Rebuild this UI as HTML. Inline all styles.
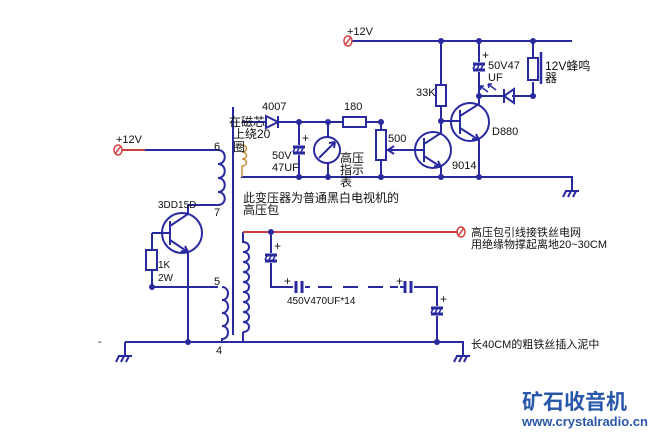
<!DOCTYPE html>
<html><head><meta charset="utf-8"><style>
body{margin:0;background:#fff}
svg{display:block}
text{font-family:"Liberation Sans","Noto Sans CJK SC",sans-serif;font-size:12px;fill:#111}
</style></head><body>
<svg width="653" height="434" viewBox="0 0 653 434" xmlns="http://www.w3.org/2000/svg">
<defs>
<g id="gnd"><path d="M-7,0H7M-6,0l-3,6M-1,0l-3,6M4,0l-3,6" stroke="#2a2aa0" stroke-width="2" fill="none"/></g>
<g id="cap"><path d="M-6,-3H6M-6,3H6" stroke="#2a2aa0" stroke-width="3"/><path d="M-4,-2l-2,4M0,-2l-2,4M4,-2l-2,4" stroke="#2a2aa0" stroke-width="1.5"/></g>
<g id="capv"><path d="M-3,-6V6M3,-6V6" stroke="#2a2aa0" stroke-width="3"/></g>
</defs>
<g stroke="#2a2aa0" stroke-width="2" fill="none">
<!-- top rail -->
<path d="M352,41H572"/>
<path d="M441,41V85M441,106V121H452"/>
<rect x="436" y="85" width="10" height="21"/>
<path d="M479,41V62M479,72V96H504M512,96H533V82M533,58V41"/>
<rect x="528" y="58" width="10" height="22"/>
<path d="M541,52V84" stroke-width="2.5"/>
<!-- LED diode -->
<path d="M504,96L514,89V103Z M504,89V103"/>
<path d="M496,90l-8,-6M488,84l1,4M488,84l4,0M488,92l-8,-6M480,86l1,4M480,86l4,0" stroke-width="1.5"/>
<!-- D880 -->
<circle cx="470" cy="122" r="19"/>
<path d="M460,110V134M452,121H460M460,116L479,104V96M460,128L479,140V177"/>
<path d="M479,140l-7,-1M479,140l-3,-6"/>
<!-- 9014 -->
<circle cx="433" cy="150" r="18"/>
<path d="M424,138V162M387,150H424M424,144L441,133V121M424,156L441,167V177"/>
<path d="M441,167l-7,-1M441,167l-3,-6"/>
<!-- pot -->
<rect x="376" y="130" width="10" height="30"/>
<path d="M381,122V130M381,160V177M394,146l-6,4l6,4"/>
<!-- meter branch -->
<path d="M243,122H266M278,122H343M366,122H381"/>
<path d="M266,116V128L278,122Z M278,116V128"/>
<rect x="343" y="117" width="23" height="10"/>
<path d="M299,122V145M299,155V177M328,122V137M328,163V177"/>
<circle cx="327" cy="150" r="13"/>
<path d="M319,158L335,142M335,142l-6,1M335,142l-1,6"/>
<path d="M241,177H572V190"/>
<!-- core -->
<path d="M233,107V335" stroke-width="2"/>
<!-- primary 12v -->
<path d="M145,150H218"/>
<path d="M218,150c9,0 9,14 0,14c9,0 9,14 0,14c9,0 9,14 0,14c9,0 9,13 0,13H193"/>
<!-- 3DD15D -->
<circle cx="182" cy="233" r="20"/>
<path d="M170,221V245M152,233H170M170,226L188,214V205M193,205H188M170,240L188,252V342"/>
<path d="M188,252l-7,-1M188,252l-3,-6"/>
<path d="M152,233V250M152,270V287H218"/>
<rect x="146" y="250" width="11" height="20"/>
<path d="M222,287c8,0 8,13 0,13c8,0 8,13 0,13c8,0 8,13 0,13c8,0 8,13 0,13V342"/>
<!-- bottom rail -->
<path d="M125,342H463V355M125,342V355"/>
<!-- secondary -->
<path d="M243,332c8,0 8,-10 0,-10c8,0 8,-10 0,-10c8,0 8,-10 0,-10c8,0 8,-10 0,-10c8,0 8,-10 0,-10c8,0 8,-10 0,-10c8,0 8,-10 0,-10c8,0 8,-10 0,-10c8,0 8,-10 0,-10V232M243,332V342"/>
<path d="M271,232V253M271,263V287H293M305,287H310M400,287H406M414,287H437V306M437,316V342"/>
<path d="M318,287H332M343,287H358M368,287H383M390,287H398" stroke-dasharray="0"/>
</g>
<path d="M243,232H458M122,150H145" stroke="#d04040" stroke-width="2"/>
<path d="M242,145c6,0 6,7 0,7c6,0 6,7 0,7c6,0 6,7 0,7V177" stroke="#c89040" stroke-width="1.5" fill="none"/>
<use href="#cap" x="479" y="67"/>
<use href="#cap" x="299" y="150"/>
<use href="#cap" x="271" y="258"/>
<use href="#cap" x="437" y="311"/>
<use href="#capv" x="299" y="287"/>
<use href="#capv" x="408" y="287"/>
<use href="#gnd" x="125" y="356"/>
<use href="#gnd" x="463" y="356"/>
<use href="#gnd" x="572" y="191"/>
<g fill="#2a2aa0">
<circle cx="441" cy="41" r="3"/><circle cx="479" cy="41" r="3"/><circle cx="533" cy="41" r="3"/>
<circle cx="479" cy="96" r="3"/><circle cx="533" cy="96" r="3"/><circle cx="441" cy="121" r="3"/>
<circle cx="299" cy="122" r="3"/><circle cx="328" cy="122" r="3"/><circle cx="381" cy="122" r="3"/>
<circle cx="299" cy="177" r="3"/><circle cx="328" cy="177" r="3"/><circle cx="381" cy="177" r="3"/>
<circle cx="441" cy="177" r="3"/><circle cx="479" cy="177" r="3"/>
<circle cx="152" cy="287" r="3"/><circle cx="188" cy="342" r="3"/><circle cx="437" cy="342" r="3"/>
<circle cx="271" cy="232" r="3"/>
</g>
<g stroke="#d04040" stroke-width="1.5" fill="none">
<ellipse cx="348" cy="41" rx="4" ry="5"/><path d="M345,45l6,-8"/>
<ellipse cx="118" cy="150" rx="4" ry="5"/><path d="M115,154l6,-8"/>
<ellipse cx="461" cy="232" rx="4" ry="5"/><path d="M458,236l6,-8"/>
</g>
<g style="font-size:10px" fill="#2a2aa0"><text x="482" y="59">+</text><text x="302" y="142">+</text><text x="274" y="250">+</text><text x="284" y="285">+</text><text x="396" y="285">+</text><text x="440" y="303">+</text></g>
<text x="347" y="35" style="font-size:11px">+12V</text>
<text x="116" y="143" style="font-size:11px">+12V</text>
<text x="262" y="110" style="font-size:11px">4007</text>
<text x="344" y="110" style="font-size:11px">180</text>
<text x="229" y="126">在磁芯</text>
<text x="233" y="138">上绕20</text>
<text x="233" y="151">圈</text>
<text x="272" y="159" style="font-size:11px">50V</text>
<text x="272" y="171" style="font-size:11px">47UF</text>
<text x="340" y="162">高压</text>
<text x="340" y="174">指示</text>
<text x="340" y="186">表</text>
<text x="388" y="142" style="font-size:11px">500</text>
<text x="416" y="96" style="font-size:11px">33K</text>
<text x="452" y="169" style="font-size:11px">9014</text>
<text x="492" y="135" style="font-size:11px">D880</text>
<text x="488" y="69" style="font-size:11px">50V47</text>
<text x="488" y="81" style="font-size:11px">UF</text>
<text x="545" y="70">12V蜂鸣</text>
<text x="545" y="82">器</text>
<text x="214" y="150" style="font-size:11px">6</text>
<text x="214" y="216" style="font-size:11px">7</text>
<text x="214" y="285" style="font-size:11px">5</text>
<text x="216" y="354" style="font-size:11px">4</text>
<text x="98" y="345" style="font-size:11px">-</text>
<text x="158" y="208" style="font-size:10px">3DD15D</text>
<text x="158" y="268" style="font-size:10px">1K</text>
<text x="158" y="281" style="font-size:10px">2W</text>
<text x="243" y="202">此变压器为普通黑白电视机的</text>
<text x="243" y="214">高压包</text>
<text x="287" y="304" style="font-size:10px">450V470UF*14</text>
<text x="471" y="236" style="font-size:11px">高压包引线接铁丝电网</text>
<text x="471" y="248" style="font-size:11px">用绝缘物撑起离地20~30CM</text>
<text x="471" y="348" style="font-size:11px">长40CM的粗铁丝插入泥中</text>
<text x="522" y="409" style="font-size:21px;font-weight:bold;fill:#2a58a8">矿石收音机</text>
<text x="522" y="426" style="font-size:13px;font-weight:bold;fill:#2a58a8">www.crystalradio.cn</text>
</svg>
</body></html>
